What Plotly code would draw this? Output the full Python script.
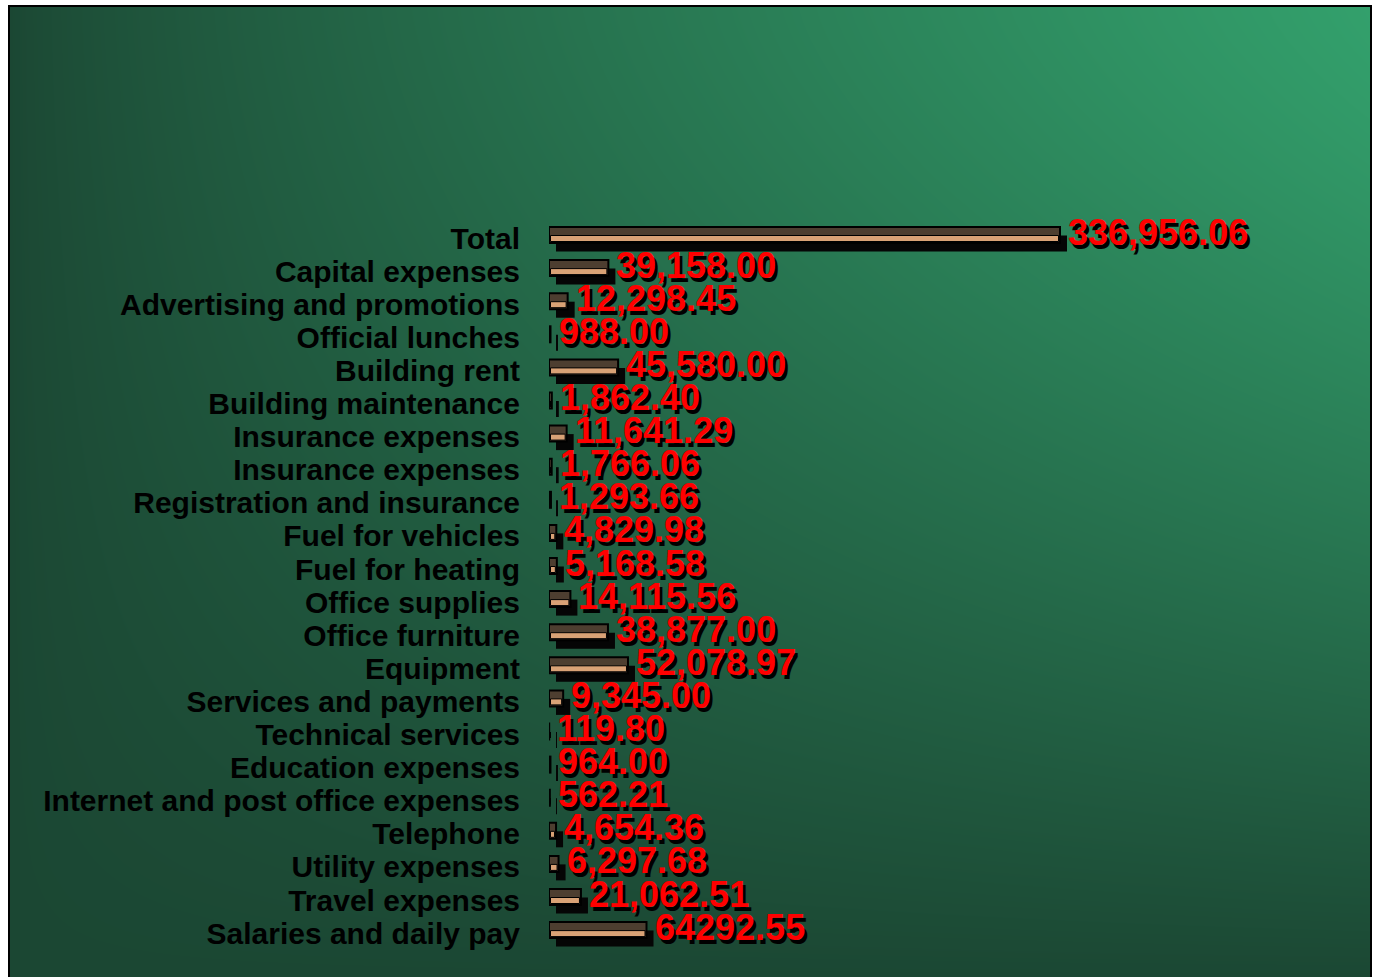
import numpy as np
import plotly.graph_objects as go

# ---------------- data (top to bottom as shown) ----------------
categories = [
    "Total", "Capital expenses", "Advertising and promotions", "Official lunches",
    "Building rent", "Building maintenance", "Insurance expenses", "Insurance expenses",
    "Registration and insurance", "Fuel for vehicles", "Fuel for heating",
    "Office supplies", "Office furniture", "Equipment", "Services and payments",
    "Technical services", "Education expenses", "Internet and post office expenses",
    "Telephone", "Utility expenses", "Travel expenses", "Salaries and daily pay",
]
values = [
    336956.06, 39158.00, 12298.45, 988.00, 45580.00, 1862.40, 11641.29, 1766.06,
    1293.66, 4829.98, 5168.58, 14115.56, 38877.00, 52078.97, 9345.00, 119.80,
    964.00, 562.21, 4654.36, 6297.68, 21062.51, 64292.55,
]
value_labels = [
    "336,956.06", "39,158.00", "12,298.45", "988.00", "45,580.00", "1,862.40",
    "11,641.29", "1,766.06", "1,293.66", "4,829.98", "5,168.58", "14,115.56",
    "38,877.00", "52,078.97", "9,345.00", "119.80", "964.00", "562.21",
    "4,654.36", "6,297.68", "21,062.51", "64292.55",
]

# ---------------- geometry / style ----------------
W, H = 1377, 977
ML, MR, MT, MB = 9, 6, 6, 0
plot_w = W - ML - MR
plot_h = H - MT - MB

n = len(categories)
pos = [n - 1 - i for i in range(n)]

bar_left_px = 549
max_len_px = 511.0
px_per_unit = max_len_px / max(values)
dom0 = (bar_left_px - ML) / plot_w
x_max = plot_w * (1 - dom0) / px_per_unit

row_px = 33.1
top_center_px = 235
y_top = (n - 1) + (top_center_px - MT) / row_px
y_bot = y_top - plot_h / row_px

u = 1.0 / row_px           # one pixel in y units
xu = 1.0 / px_per_unit     # one pixel in x units
bar_h = 16 * u

DARK = "#4d3e30"
TAN = "#d9a276"
SHADOW = "#050505"

fig = go.Figure()

# background gradient
gx = np.linspace(0, 1, 60)
gy = np.linspace(0, 1, 60)
GX, GY = np.meshgrid(gx, gy)
Z = (GX ** 0.8) * (1 - (1 - GY) ** 1.3)
fig.add_trace(go.Heatmap(
    x=gx, y=gy, z=Z, zsmooth="best", showscale=False, hoverinfo="skip",
    colorscale=[[0, "#1b4733"], [1, "#33a06c"]], zmin=0, zmax=1,
    xaxis="x", yaxis="y",
))

# shadow bars
fig.add_trace(go.Bar(
    y=pos, x=values, base=7 * xu, orientation="h",
    offset=-bar_h / 2 - 8.5 * u, width=bar_h,
    marker=dict(color=SHADOW, line=dict(width=0)),
    hoverinfo="skip", xaxis="x2", yaxis="y2", showlegend=False,
))
# main bars (dark top)
fig.add_trace(go.Bar(
    y=pos, x=values, base=0, orientation="h",
    offset=-bar_h / 2, width=bar_h,
    marker=dict(color=DARK, line=dict(color="#000000", width=2)),
    hoverinfo="skip", xaxis="x2", yaxis="y2", showlegend=False,
))
# tan lower strip
fig.add_trace(go.Bar(
    y=pos, x=[max(v - 3 * xu, 0) for v in values], base=1.5 * xu, orientation="h",
    offset=-bar_h / 2 + 1.5 * u, width=6 * u,
    marker=dict(color=TAN, line=dict(color="#000000", width=1)),
    hoverinfo="skip", xaxis="x2", yaxis="y2", showlegend=False,
))

annotations = []
for p, v, t in zip(pos, values, value_labels):
    annotations.append(dict(
        x=v, y=p, xref="x2", yref="y2", text=t, showarrow=False,
        xanchor="left", yanchor="middle", xshift=6, yshift=3,
        font=dict(family="Liberation Sans, Arial, sans-serif", size=36,
                  color="#ff0000", weight="bold", shadow="3px 4px 0px #000000"),
    ))

fig.update_layout(
    width=W, height=H,
    margin=dict(l=ML, r=MR, t=MT, b=MB),
    paper_bgcolor="#ffffff", plot_bgcolor="rgba(0,0,0,0)",
    barmode="overlay", showlegend=False,
    xaxis=dict(domain=[0, 1], range=[0, 1], visible=False, fixedrange=True),
    yaxis=dict(domain=[0, 1], range=[0, 1], visible=False, fixedrange=True),
    xaxis2=dict(domain=[dom0, 1], range=[0, x_max], visible=False, anchor="y2"),
    yaxis2=dict(
        domain=[0, 1], range=[y_bot, y_top], anchor="x2",
        tickvals=[p - 3 * u for p in pos], ticktext=categories,
        ticks="outside", ticklen=22, tickcolor="rgba(0,0,0,0)",
        showgrid=False, zeroline=False, showline=False,
        tickfont=dict(family="Liberation Sans, Arial, sans-serif", size=30,
                      color="#000000", weight="bold"),
    ),
    annotations=annotations,
    shapes=[dict(type="rect", xref="paper", yref="paper", x0=0, x1=1, y0=-0.02, y1=1,
                 line=dict(color="#000000", width=2), layer="above")],
)

fig.write_html(
    "out.html",
    config={"displayModeBar": False},
    post_script="document.body.style.margin='0';document.body.style.overflow='hidden';",
)
